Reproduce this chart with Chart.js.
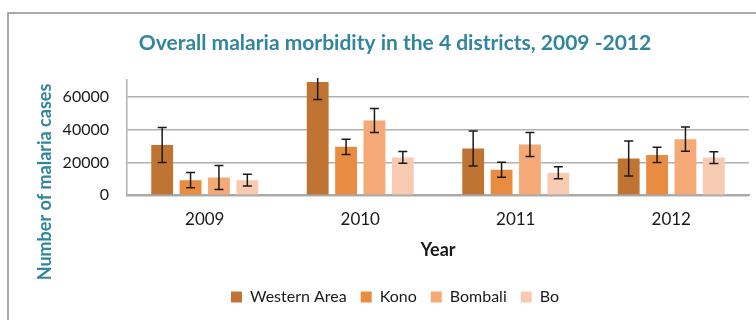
<!DOCTYPE html>
<html lang="en">
<head>
    <title>Overall malaria morbidity</title>
    <script src="https://cdn.jsdelivr.net/npm/chart.js"></script>
    <style>
        body {
            margin: 0;
            background: #fff;
        }

        .wrap {
            position: relative;
            width: 756px;
            height: 320px;
            overflow: hidden;
        }

        .frame {
            position: absolute;
            left: 7px;
            top: 12px;
            width: 800px;
            height: 400px;
            border-top: 2px solid #a9a9a9;
            border-left: 2px solid #a9a9a9;
        }

        #malariaChart {
            position: absolute;
            left: 0;
            top: 0;
        }
    </style>
</head>
<body>
<div class="wrap">
    <div class="frame"></div>
    <canvas id="malariaChart" width="756" height="320"></canvas>
</div>
<script>
    const years = ['2009', '2010', '2011', '2012'];

    const westernArea = [30500, 68800, 28400, 22300];
    const kono = [9200, 29400, 15500, 24500];
    const bombali = [10800, 45400, 30800, 34100];
    const bo = [9200, 23000, 13700, 22900];

    // error bar half-lengths
    const westernAreaErr = [10600, 10600, 10600, 10600];
    const konoErr = [4600, 4600, 4600, 4600];
    const bombaliErr = [7300, 7300, 7300, 7300];
    const boErr = [3600, 3600, 3600, 3600];

    const yTicks = [0, 20000, 40000, 60000];

    const teal = '#31859c';
    const font = 'Lato, "Open Sans", sans-serif';

    const errorBars = {
        id: 'errorBars',
        afterDatasetsDraw(chart) {
            const ctx = chart.ctx;
            const y = chart.scales.y;
            const area = chart.chartArea;
            ctx.save();
            ctx.beginPath();
            ctx.rect(area.left, area.top - 2, area.right - area.left, area.bottom - area.top + 2);
            ctx.clip();
            ctx.strokeStyle = '#1a1a1a';
            ctx.lineWidth = 1.5;
            chart.data.datasets.forEach((ds, i) => {
                const meta = chart.getDatasetMeta(i);
                meta.data.forEach((bar, j) => {
                    const v = ds.data[j];
                    const e = ds.errors[j];
                    const top = y.getPixelForValue(v + e);
                    const bottom = y.getPixelForValue(v - e);
                    const x = bar.x;
                    ctx.beginPath();
                    ctx.moveTo(x, top);
                    ctx.lineTo(x, bottom);
                    ctx.moveTo(x - 4.5, top);
                    ctx.lineTo(x + 4.5, top);
                    ctx.moveTo(x - 4.5, bottom);
                    ctx.lineTo(x + 4.5, bottom);
                    ctx.stroke();
                });
            });
            ctx.restore();
        }
    };

    // rotated axis title, centred on the whole plot box
    const yTitle = {
        id: 'yTitle',
        afterDraw(chart) {
            const ctx = chart.ctx;
            ctx.save();
            ctx.translate(45, 182);
            ctx.rotate(-Math.PI / 2);
            ctx.font = 'bold 18px ' + font;
            ctx.fillStyle = teal;
            ctx.textAlign = 'center';
            ctx.textBaseline = 'middle';
            ctx.fillText('Number of malaria cases', 0, 0);
            ctx.restore();
        }
    };

    const ctx = document.getElementById('malariaChart').getContext('2d');
    new Chart(ctx, {
        type: 'bar',
        data: {
            labels: years,
            datasets: [
                {label: 'Western Area', data: westernArea, errors: westernAreaErr, backgroundColor: '#c07434'},
                {label: 'Kono', data: kono, errors: konoErr, backgroundColor: '#e88c42'},
                {label: 'Bombali', data: bombali, errors: bombaliErr, backgroundColor: '#f5a977'},
                {label: 'Bo', data: bo, errors: boErr, backgroundColor: '#f9cab2'},
            ],
        },
        options: {
            responsive: false,
            animation: false,
            categoryPercentage: 0.73,
            barPercentage: 0.77,
            layout: {
                padding: {left: 41, right: 7, top: 0, bottom: 5}
            },
            plugins: {
                title: {
                    display: true,
                    text: 'Overall malaria morbidity in the 4 districts, 2009 -2012',
                    color: teal,
                    font: {family: font, size: 21, weight: 'bold'},
                    padding: {top: 31, bottom: 23.8},
                },
                legend: {
                    position: 'bottom',
                    labels: {
                        boxWidth: 11,
                        boxHeight: 11,
                        padding: 14,
                        color: '#1a1a1a',
                        font: {family: font, size: 16},
                    },
                },
                tooltip: {enabled: false},
            },
            scales: {
                x: {
                    grid: {display: false, drawTicks: false},
                    border: {color: '#a9a9a9', width: 2},
                    ticks: {
                        padding: 14.5,
                        color: '#1a1a1a',
                        font: {family: font, size: 17},
                    },
                    title: {
                        display: true,
                        text: 'Year',
                        color: '#1a1a1a',
                        font: {family: font, size: 18, weight: 'bold', lineHeight: 0.6},
                        padding: {top: 0, bottom: 19.5},
                    },
                },
                y: {
                    min: 0,
                    max: 70000,
                    afterBuildTicks: axis => {
                        axis.ticks = yTicks.map(v => ({value: v}));
                    },
                    afterFit: axis => {
                        axis.width = 86;
                    },
                    grid: {color: '#b0b0b0', lineWidth: 1.5, drawTicks: false},
                    border: {color: '#b0b0b0', width: 1.5},
                    ticks: {
                        padding: 18,
                        color: '#1a1a1a',
                        font: {family: font, size: 16},
                        callback: v => String(v),
                    },
                },
            },
        },
        plugins: [errorBars, yTitle],
    });
</script>
</body>
</html>
